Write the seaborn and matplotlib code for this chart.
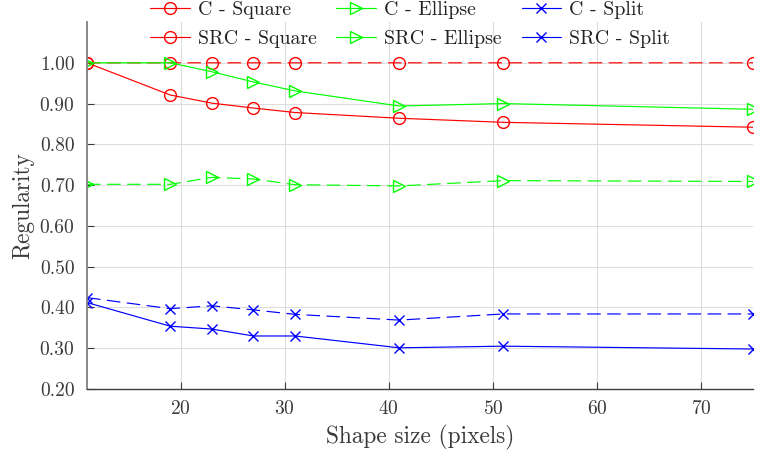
import matplotlib
matplotlib.use("Agg")
import matplotlib.pyplot as plt
from matplotlib.lines import Line2D
import seaborn as sns
import pandas as pd
from matplotlib.ticker import FormatStrFormatter

sizes = [11, 19, 23, 27, 31, 41, 51, 75]
c_square = [1.00, 0.921, 0.901, 0.889, 0.878, 0.864, 0.854, 0.842]
src_square = [1.00, 1.00, 1.00, 1.00, 1.00, 1.00, 1.00, 1.00]
c_ellipse = [1.00, 1.00, 0.978, 0.953, 0.931, 0.894, 0.900, 0.886]
src_ellipse = [0.702, 0.702, 0.719, 0.715, 0.701, 0.698, 0.711, 0.709]
c_split = [0.412, 0.354, 0.347, 0.330, 0.330, 0.301, 0.305, 0.298]
src_split = [0.424, 0.397, 0.404, 0.394, 0.383, 0.369, 0.384, 0.384]

series = [
    ("C - Square", c_square, "#ff0000", "o", False),
    ("SRC - Square", src_square, "#ff0000", "o", True),
    ("C - Ellipse", c_ellipse, "#00ff00", ">", False),
    ("SRC - Ellipse", src_ellipse, "#00ff00", ">", True),
    ("C - Split", c_split, "#0000ff", "x", False),
    ("SRC - Split", src_split, "#0000ff", "x", True),
]

sns.set_style("ticks")
plt.rcParams["font.family"] = ["cmr10", "DejaVu Serif"]
plt.rcParams["axes.formatter.use_mathtext"] = True
plt.rcParams["mathtext.fontset"] = "cm"

fig = plt.figure(figsize=(7.61, 4.54), dpi=100)
ax = fig.add_axes([0.1143, 0.1432, 0.8752, 0.8083])

legend_handles = []
for name, vals, color, marker, dashed in series:
    df = pd.DataFrame({"size": sizes, "value": vals})
    ms = 7 if marker == "x" else 8.5
    line_kw = dict(color=color, marker=marker, markersize=ms,
                   markerfacecolor="none", markeredgecolor=color,
                   markeredgewidth=1.0, linewidth=0.85)
    ls = (0, (11.5, 5.5)) if dashed else "-"
    sns.lineplot(data=df, x="size", y="value", ax=ax, linestyle=ls,
                 snap=False, **line_kw)
    legend_handles.append(Line2D([], [], linestyle="-", label=name, **line_kw))

ax.set_xlim(11, 75)
ax.set_ylim(0.20, 1.10)
ax.set_xticks([20, 30, 40, 50, 60, 70])
ax.set_yticks([0.2, 0.3, 0.4, 0.5, 0.6, 0.7, 0.8, 0.9, 1.0])
ax.yaxis.set_major_formatter(FormatStrFormatter("%.2f"))
ax.grid(True, color="#dddddd", linewidth=0.8)
ax.set_axisbelow(True)
for s in ["top", "right"]:
    ax.spines[s].set_visible(False)
ax.spines["left"].set_color("#808080")
ax.spines["left"].set_linewidth(1.3)
ax.spines["bottom"].set_color("#404040")
ax.spines["bottom"].set_linewidth(1.0)
ax.tick_params(direction="in", length=5, labelsize=14, colors="#3a3a3a",
               width=0.8, pad=8)
ax.tick_params(axis="y", pad=9)
ax.set_xlabel("Shape size (pixels)", fontsize=16.8, color="#3a3a3a", labelpad=5)
ax.set_ylabel("Regularity", fontsize=16.8, color="#3a3a3a", labelpad=4)

fig.legend(handles=legend_handles, ncol=3, loc="upper center",
           bbox_to_anchor=(410 / 761, 0.997), frameon=False, fontsize=14.3,
           handlelength=2.0, columnspacing=1.0, labelspacing=0.55,
           handletextpad=0.4, borderaxespad=0.0, borderpad=0.0,
           labelcolor="#222222")

fig.savefig("out.png", dpi=100)
